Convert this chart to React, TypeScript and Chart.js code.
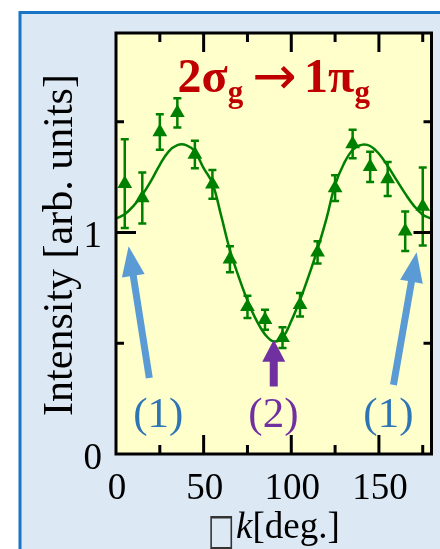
import React, { useEffect, useRef } from "react";
import { Chart, registerables } from "chart.js";

Chart.register(...registerables);

// ---- data ----
const angles = [5, 15, 25, 35, 45, 55, 65, 75, 85, 95, 105, 115, 125, 135, 145, 155, 165, 175];
const intensity = [1.22, 1.155, 1.453, 1.54, 1.352, 1.217, 0.879, 0.664, 0.606, 0.525, 0.674, 0.91, 1.2, 1.399, 1.296, 1.241, 1.005, 1.117];
const errors = [0.2, 0.115, 0.08, 0.066, 0.062, 0.065, 0.059, 0.05, 0.045, 0.047, 0.053, 0.05, 0.058, 0.064, 0.068, 0.077, 0.089, 0.176];

const fitAngles = [0, 5, 10, 15, 20, 25, 30, 35, 40, 45, 50, 55, 60, 65, 70, 75, 80, 85, 90, 95, 100, 105, 110, 115, 120, 125, 130, 135, 140, 145, 150, 155, 160, 165, 170, 175, 180];
const fitValues = [1.063, 1.082, 1.12, 1.17, 1.233, 1.305, 1.365, 1.394, 1.394, 1.365, 1.29, 1.222, 1.075, 0.92, 0.8, 0.693, 0.605, 0.54, 0.508, 0.525, 0.6, 0.695, 0.805, 0.925, 1.06, 1.215, 1.31, 1.372, 1.395, 1.39, 1.355, 1.3, 1.237, 1.175, 1.12, 1.08, 1.062];

const xMajorTicks = [0, 50, 100, 150];
const xMinorTicks = [25, 75, 125, 175];
const yMajorTicks = [0, 1];
const yMinorTicks = [0.5, 1.5];

const SERIF = '"Liberation Serif", "Times New Roman", serif';
const GREEN = "#008000";

function drawArrow(ctx: CanvasRenderingContext2D, x1: number, y1: number, x2: number, y2: number, shaftW: number, headW: number, headL: number, color: string) {
  const dx = x2 - x1, dy = y2 - y1;
  const len = Math.hypot(dx, dy);
  const ux = dx / len, uy = dy / len;
  const px = -uy, py = ux;
  const bx = x2 - ux * headL, by = y2 - uy * headL;
  ctx.save();
  ctx.fillStyle = color;
  ctx.beginPath();
  ctx.moveTo(x1 + px * shaftW / 2, y1 + py * shaftW / 2);
  ctx.lineTo(bx + px * shaftW / 2, by + py * shaftW / 2);
  ctx.lineTo(bx + px * headW / 2, by + py * headW / 2);
  ctx.lineTo(x2, y2);
  ctx.lineTo(bx - px * headW / 2, by - py * headW / 2);
  ctx.lineTo(bx - px * shaftW / 2, by - py * shaftW / 2);
  ctx.lineTo(x1 - px * shaftW / 2, y1 - py * shaftW / 2);
  ctx.closePath();
  ctx.fill();
  ctx.restore();
}

const decor = {
  id: "decor",
  beforeDraw(chart: any) {
    const { ctx, width, height, chartArea: ca } = chart;
    ctx.save();
    ctx.fillStyle = "#ffffff";
    ctx.fillRect(0, 0, width, height);
    ctx.fillStyle = "#dde8f5";
    ctx.fillRect(19, 11, width, height);
    ctx.strokeStyle = "#1a74c6";
    ctx.lineWidth = 3;
    ctx.beginPath();
    ctx.moveTo(20, height + 5);
    ctx.lineTo(20, 12.5);
    ctx.lineTo(width + 5, 12.5);
    ctx.stroke();
    ctx.fillStyle = "#ffffcc";
    ctx.fillRect(ca.left, ca.top, ca.right - ca.left, ca.bottom - ca.top);
    ctx.restore();
  },
  beforeDatasetsDraw(chart: any) {
    const { ctx } = chart;
    const xs = chart.scales.x, ys = chart.scales.y;
    ctx.save();
    ctx.strokeStyle = GREEN;
    ctx.lineWidth = 2.5;
    angles.forEach((a, i) => {
      const px = xs.getPixelForValue(a);
      const yt = ys.getPixelForValue(intensity[i] + errors[i]);
      const yb = ys.getPixelForValue(intensity[i] - errors[i]);
      ctx.beginPath();
      ctx.moveTo(px, yt);
      ctx.lineTo(px, yb);
      ctx.moveTo(px - 4, yt);
      ctx.lineTo(px + 4, yt);
      ctx.moveTo(px - 4, yb);
      ctx.lineTo(px + 4, yb);
      ctx.stroke();
    });
    ctx.restore();
  },
  afterDraw(chart: any) {
    const { ctx, chartArea: ca } = chart;
    const xs = chart.scales.x, ys = chart.scales.y;
    const { left, right, top, bottom } = ca;
    ctx.save();
    // frame of the plot
    ctx.strokeStyle = "#000";
    ctx.lineWidth = 3;
    ctx.strokeRect(left, top, right - left, bottom - top);
    ctx.beginPath();
    xMajorTicks.forEach((v) => {
      if (v <= 0) return;
      const px = xs.getPixelForValue(v);
      ctx.moveTo(px, bottom); ctx.lineTo(px, bottom - 19);
      ctx.moveTo(px, top); ctx.lineTo(px, top + 19);
    });
    xMinorTicks.forEach((v) => {
      const px = xs.getPixelForValue(v);
      ctx.moveTo(px, bottom); ctx.lineTo(px, bottom - 9);
      ctx.moveTo(px, top); ctx.lineTo(px, top + 9);
    });
    yMajorTicks.forEach((v) => {
      if (v <= 0) return;
      const py = ys.getPixelForValue(v);
      ctx.moveTo(left, py); ctx.lineTo(left + 20, py);
      ctx.moveTo(right, py); ctx.lineTo(right - 18, py);
    });
    yMinorTicks.forEach((v) => {
      const py = ys.getPixelForValue(v);
      ctx.moveTo(left, py); ctx.lineTo(left + 8, py);
      ctx.moveTo(right, py); ctx.lineTo(right - 8, py);
    });
    ctx.stroke();

    // tick labels
    ctx.fillStyle = "#000";
    ctx.font = `37px ${SERIF}`;
    ctx.textBaseline = "alphabetic";
    ctx.textAlign = "center";
    xMajorTicks.forEach((v) => {
      ctx.fillText(String(v), xs.getPixelForValue(v) + 1, bottom + 45);
    });
    ctx.textAlign = "right";
    yMajorTicks.forEach((v) => {
      ctx.fillText(String(v), left - 14, ys.getPixelForValue(v) + 15);
    });

    // y title
    ctx.save();
    ctx.translate(72, 245);
    ctx.rotate(-Math.PI / 2);
    ctx.textAlign = "center";
    ctx.font = `42px ${SERIF}`;
    ctx.fillText("Intensity [arb. units]", 0, 0);
    ctx.restore();

    // x title: box glyph, italic k, [deg.]
    {
      const cx = (left + right) / 2;
      const base = 538;
      ctx.textAlign = "left";
      const p1 = "\u25A1", p2 = "k", p3 = "[deg.]";
      const boxFont = `30px "DejaVu Sans", sans-serif`;
      ctx.font = boxFont;
      const w1 = ctx.measureText(p1).width;
      ctx.font = `italic 37px ${SERIF}`;
      const w2 = ctx.measureText(p2).width;
      ctx.font = `37px ${SERIF}`;
      const w3 = ctx.measureText(p3).width;
      let x = cx - (w1 + w2 + w3) / 2;
      ctx.save();
      ctx.font = boxFont;
      ctx.fillStyle = "#333";
      ctx.translate(x, base + 6);
      ctx.scale(0.95, 1.45);
      ctx.fillText(p1, 0, 0);
      ctx.restore();
      x += w1;
      ctx.fillStyle = "#000";
      ctx.font = `italic 37px ${SERIF}`;
      ctx.fillText(p2, x, base);
      x += w2;
      ctx.font = `37px ${SERIF}`;
      ctx.fillText(p3, x, base);
    }

    // title
    {
      const parts = [
        { t: "2\u03C3", f: `bold 48px ${SERIF}`, dy: 0 },
        { t: "g", f: `bold 31px ${SERIF}`, dy: 10 },
        { t: " ", f: `bold 36px ${SERIF}`, dy: 0 },
        { t: "\u2192", f: `53px "DejaVu Sans", sans-serif`, dy: 2 },
        { t: " ", f: `bold 30px ${SERIF}`, dy: 0 },
        { t: "1\u03C0", f: `bold 48px ${SERIF}`, dy: 0 },
        { t: "g", f: `bold 31px ${SERIF}`, dy: 10 },
      ];
      let total = 0;
      const widths = parts.map((p) => {
        ctx.font = p.f;
        const w = ctx.measureText(p.t).width;
        total += w;
        return w;
      });
      let x = (left + right) / 2 - total / 2;
      const base = 92;
      ctx.fillStyle = "#c00000";
      ctx.textAlign = "left";
      parts.forEach((p, i) => {
        ctx.font = p.f;
        ctx.fillText(p.t, x, base + p.dy);
        x += widths[i];
      });
    }

    // arrows
    const P = (x: number, y: number) => [xs.getPixelForValue(x), ys.getPixelForValue(y)];
    let a = P(19.0, 0.343), b = P(7.2, 0.938);
    drawArrow(ctx, a[0], a[1], b[0], b[1], 7, 23, 30, "#5b9bd5");
    a = P(158.3, 0.312); b = P(171.5, 0.911);
    drawArrow(ctx, a[0], a[1], b[0], b[1], 7, 23, 30, "#5b9bd5");
    a = P(90, 0.305); b = P(90, 0.516);
    drawArrow(ctx, a[0], a[1], b[0], b[1], 8, 23, 22, "#7030a0");

    // arrow labels
    ctx.font = `43px ${SERIF}`;
    ctx.textAlign = "center";
    const lb = ys.getPixelForValue(0.122);
    ctx.fillStyle = "#2e75b6";
    ctx.fillText("(1)", xs.getPixelForValue(24.1), lb);
    ctx.fillText("(1)", xs.getPixelForValue(155.4), lb);
    ctx.fillStyle = "#7030a0";
    ctx.fillText("(2)", xs.getPixelForValue(89.8), lb);

    ctx.restore();
  },
};

export default function App() {
  const ref = useRef<HTMLCanvasElement | null>(null);
  useEffect(() => {
    document.body.style.margin = "0";
    if (!ref.current) return;
    const chart = new Chart(ref.current, {
      type: "line",
      data: {
        datasets: [
          {
            label: "data",
            data: angles.map((a, i) => ({ x: a, y: intensity[i] })),
            showLine: false,
            pointStyle: "triangle",
            pointRadius: 8.5,
            pointBackgroundColor: GREEN,
            pointBorderColor: GREEN,
            pointBorderWidth: 0,
            order: 0,
          },
          {
            label: "fit",
            data: fitAngles.map((a, i) => ({ x: a, y: fitValues[i] })),
            borderColor: GREEN,
            borderWidth: 2.5,
            pointRadius: 0,
            tension: 0.4,
            fill: false,
            order: 1,
          },
        ],
      },
      options: {
        animation: false,
        responsive: false,
        devicePixelRatio: 1,
        layout: { padding: { left: 116, right: 5, top: 33, bottom: 95 } },
        plugins: { legend: { display: false }, tooltip: { enabled: false }, title: { display: false } },
        events: [],
        scales: {
          x: { type: "linear", min: 0, max: 180, display: false },
          y: { type: "linear", min: 0, max: 1.9, display: false },
        },
      },
      plugins: [decor],
    });
    return () => chart.destroy();
  }, []);
  return (
    <div style={{ width: 440, height: 549 }}>
      <canvas ref={ref} width={440} height={549} style={{ display: "block" }} />
    </div>
  );
}
